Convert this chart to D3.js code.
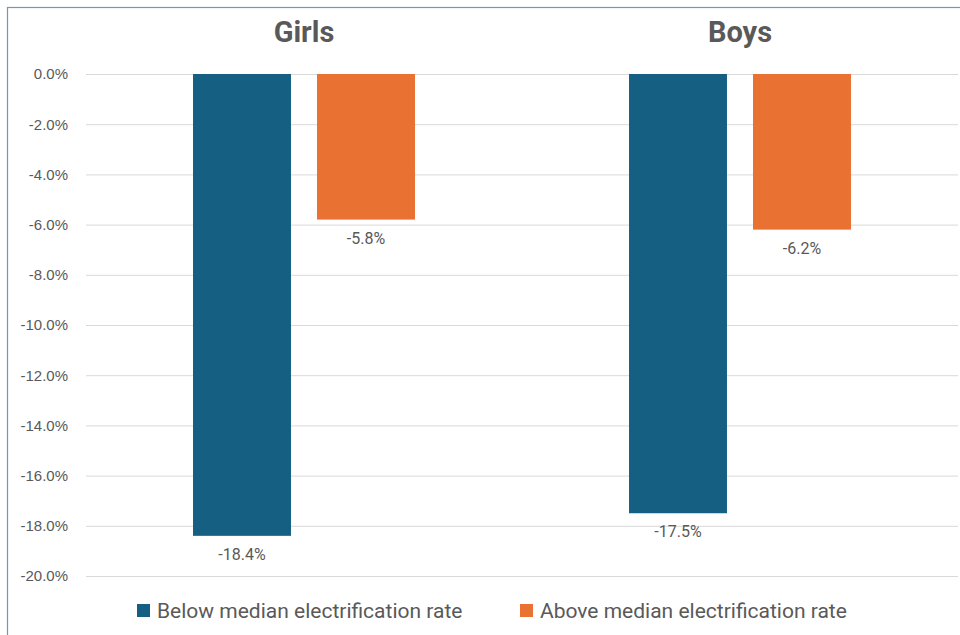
<!DOCTYPE html>
<html>
<head>
<meta charset="utf-8">
<script src="https://cdn.jsdelivr.net/npm/d3@7"></script>
<style>
	body { margin: 0; background: #fff; }
	svg { display: block; font-family: Roboto, 'Open Sans', sans-serif; }
</style>
</head>
<body>
<div id="chart"></div>
<script>
// data
const categories = ['Girls', 'Boys'];
const series = ['Below median electrification rate', 'Above median electrification rate'];
const below = [-18.4, -17.5];
const above = [-5.8, -6.2];
const yTickValues = [0, -2, -4, -6, -8, -10, -12, -14, -16, -18, -20];
const colours = ['#156082', '#E97132'];

const width = 960;
const height = 635;
const margin = { top: 74, right: 2, bottom: 59, left: 86 };
const textColour = '#595959';

// plain hyphen instead of d3's unicode minus
const pct = d => d3.format('.1f')(d).replace('\u2212', '-') + '%';

const svg = d3.select('#chart')
	.append('svg')
	.attr('width', width)
	.attr('height', height);

// chart border
svg.append('rect')
	.attr('x', 7.5)
	.attr('y', 7.5)
	.attr('width', width)
	.attr('height', height)
	.attr('fill', 'none')
	.attr('stroke', '#6f9bb2')
	.attr('stroke-width', 1.2);

const x0 = d3.scaleBand()
	.domain(categories)
	.range([margin.left, width - margin.right])
	.padding(0);

const x1 = d3.scaleBand()
	.domain(series)
	.range([0, x0.bandwidth()])
	.paddingInner(0.21)
	.paddingOuter(0.863);

const y = d3.scaleLinear()
	.domain([0, -20])
	.range([margin.top, height - margin.bottom]);

// gridlines
svg.append('g')
	.attr('class', 'gridline')
	.attr('transform', `translate(${margin.left},0)`)
	.call(d3.axisLeft(y)
		.tickValues(yTickValues)
		.tickSize(-(width - margin.left - margin.right))
		.tickFormat('')
	)
	.call(g => g.select('.domain').remove())
	.call(g => g.selectAll('line').attr('stroke', '#d9d9d9'));

// y axis labels
svg.append('g')
	.attr('class', 'y-axis')
	.attr('transform', `translate(${margin.left},0)`)
	.call(d3.axisLeft(y)
		.tickValues(yTickValues)
		.tickSize(0)
		.tickPadding(18)
		.tickFormat(pct)
	)
	.call(g => g.select('.domain').remove())
	.call(g => g.selectAll('text')
		.attr('fill', textColour)
		.style('font-size', '15px'));

// bars
const rows = categories.map((c, i) => ({ category: c, values: [below[i], above[i]] }));

const groups = svg.selectAll('.group')
	.data(rows)
	.join('g')
	.attr('class', 'group')
	.attr('transform', d => `translate(${x0(d.category)},0)`);

groups.selectAll('rect')
	.data(d => d.values.map((v, i) => ({ key: series[i], value: v, i })))
	.join('rect')
	.attr('x', d => x1(d.key))
	.attr('y', y(0))
	.attr('width', x1.bandwidth())
	.attr('height', d => y(d.value) - y(0))
	.attr('fill', d => colours[d.i]);

// data labels
groups.selectAll('.label')
	.data(d => d.values.map((v, i) => ({ key: series[i], value: v })))
	.join('text')
	.attr('class', 'label')
	.attr('x', d => x1(d.key) + x1.bandwidth() / 2)
	.attr('y', d => y(d.value) + 24)
	.attr('text-anchor', 'middle')
	.attr('fill', textColour)
	.style('font-size', '16px')
	.text(d => pct(d.value));

// category titles
groups.append('text')
	.attr('x', x0.bandwidth() / 2)
	.attr('y', 42)
	.attr('text-anchor', 'middle')
	.attr('fill', textColour)
	.style('font-size', '29px')
	.style('font-weight', 'bold')
	.text(d => d.category);

// legend
const legendX = [137, 520];
const legend = svg.selectAll('.legend')
	.data(series)
	.join('g')
	.attr('class', 'legend')
	.attr('transform', (d, i) => `translate(${legendX[i]},604)`);

legend.append('rect')
	.attr('width', 13)
	.attr('height', 13)
	.attr('fill', (d, i) => colours[i]);

legend.append('text')
	.attr('x', 20)
	.attr('y', 14)
	.attr('fill', textColour)
	.style('font-size', '21px')
	.text(d => d);
</script>
</body>
</html>
